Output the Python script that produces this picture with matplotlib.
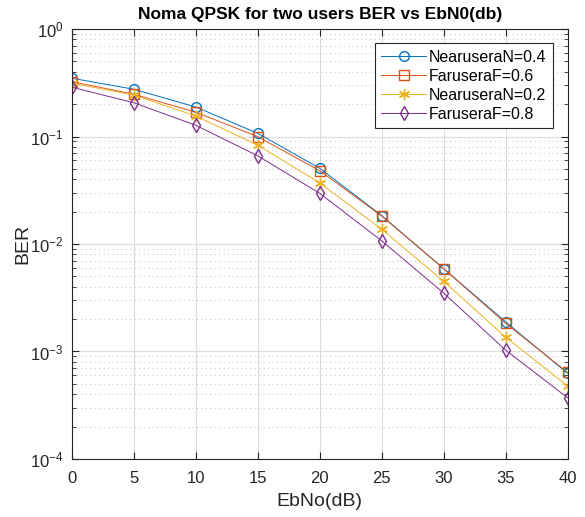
import numpy as np
import matplotlib
matplotlib.use("Agg")
import matplotlib.pyplot as plt
from matplotlib.ticker import LogLocator, NullFormatter

plt.rcParams['font.family'] = ['Liberation Sans', 'DejaVu Sans']
plt.rcParams['mathtext.fontset'] = 'custom'
plt.rcParams['mathtext.rm'] = 'Liberation Sans'
plt.rcParams['mathtext.it'] = 'Liberation Sans'

ebno = [0, 5, 10, 15, 20, 25, 30, 35, 40]
ber_near_04 = [0.348, 0.275, 0.188, 0.107, 0.0506, 0.0184, 0.0059, 0.00189, 0.000627]
ber_far_06 = [0.324, 0.247, 0.168, 0.0996, 0.048, 0.0182, 0.0059, 0.00183, 0.00064]
ber_near_02 = [0.313, 0.243, 0.155, 0.083, 0.037, 0.0137, 0.0045, 0.00136, 0.000478]
ber_far_08 = [0.287, 0.206, 0.127, 0.066, 0.0296, 0.0107, 0.0035, 0.00103, 0.000372]
labels = ['NearuseraN=0.4', 'FaruseraF=0.6', 'NearuseraN=0.2', 'FaruseraF=0.8']
xticks = [0, 5, 10, 15, 20, 25, 30, 35, 40]

colors = ['#0072BD', '#D95319', '#EDB120', '#7E2F8E']
markers = ['o', 's', (6, 2, 0), 'd']
msizes = [7, 6.5, 8, 7]

fig = plt.figure(figsize=(5.85, 5.17), dpi=100)
ax = fig.add_axes([0.1231, 0.1122, 0.847, 0.8317])

for y, lab, c, m, ms in zip([ber_near_04, ber_far_06, ber_near_02, ber_far_08], labels, colors, markers, msizes):
    ax.semilogy(ebno, y, color=c, marker=m, markersize=ms,
                markerfacecolor='none', markeredgewidth=1.0, linewidth=0.7, label=lab)

ax.set_xlim(0, 40)
ax.set_ylim(1e-4, 1)
ax.set_xticks(xticks)
ax.yaxis.set_major_locator(LogLocator(base=10, numticks=10))
ax.yaxis.set_minor_locator(LogLocator(base=10, subs=np.arange(2, 10), numticks=20))
ax.yaxis.set_minor_formatter(NullFormatter())

ax.grid(True, which='major', color='#dcdcdc', linewidth=0.8, linestyle='-')
ax.grid(True, which='minor', axis='y', color='#cccccc', linewidth=0.8, linestyle=(0, (1, 3)))
ax.set_axisbelow(True)

ax.tick_params(which='both', direction='in', top=True, right=True, colors='#262626', labelsize=12)
ax.tick_params(which='major', length=5)
ax.tick_params(which='minor', length=3)
ax.tick_params(axis='x', pad=9)
ax.tick_params(axis='y', pad=6)
for s in ax.spines.values():
    s.set_color('#262626')
    s.set_linewidth(0.8)

ax.set_title('Noma QPSK for two users BER vs EbN0(db)', fontsize=12.5, fontweight='bold', pad=7)
ax.set_xlabel('EbNo(dB)', fontsize=14, color='#262626', labelpad=5)
ax.set_ylabel('BER', fontsize=14, color='#262626', labelpad=-1)

leg = ax.legend(loc='upper right', fontsize=11.5, fancybox=False, framealpha=1,
                edgecolor='#262626', borderpad=0.4, handlelength=2.8, labelspacing=0.25,
                handletextpad=0.2, borderaxespad=0.9)
leg.get_frame().set_linewidth(0.8)

fig.savefig('out.png', dpi=100)
